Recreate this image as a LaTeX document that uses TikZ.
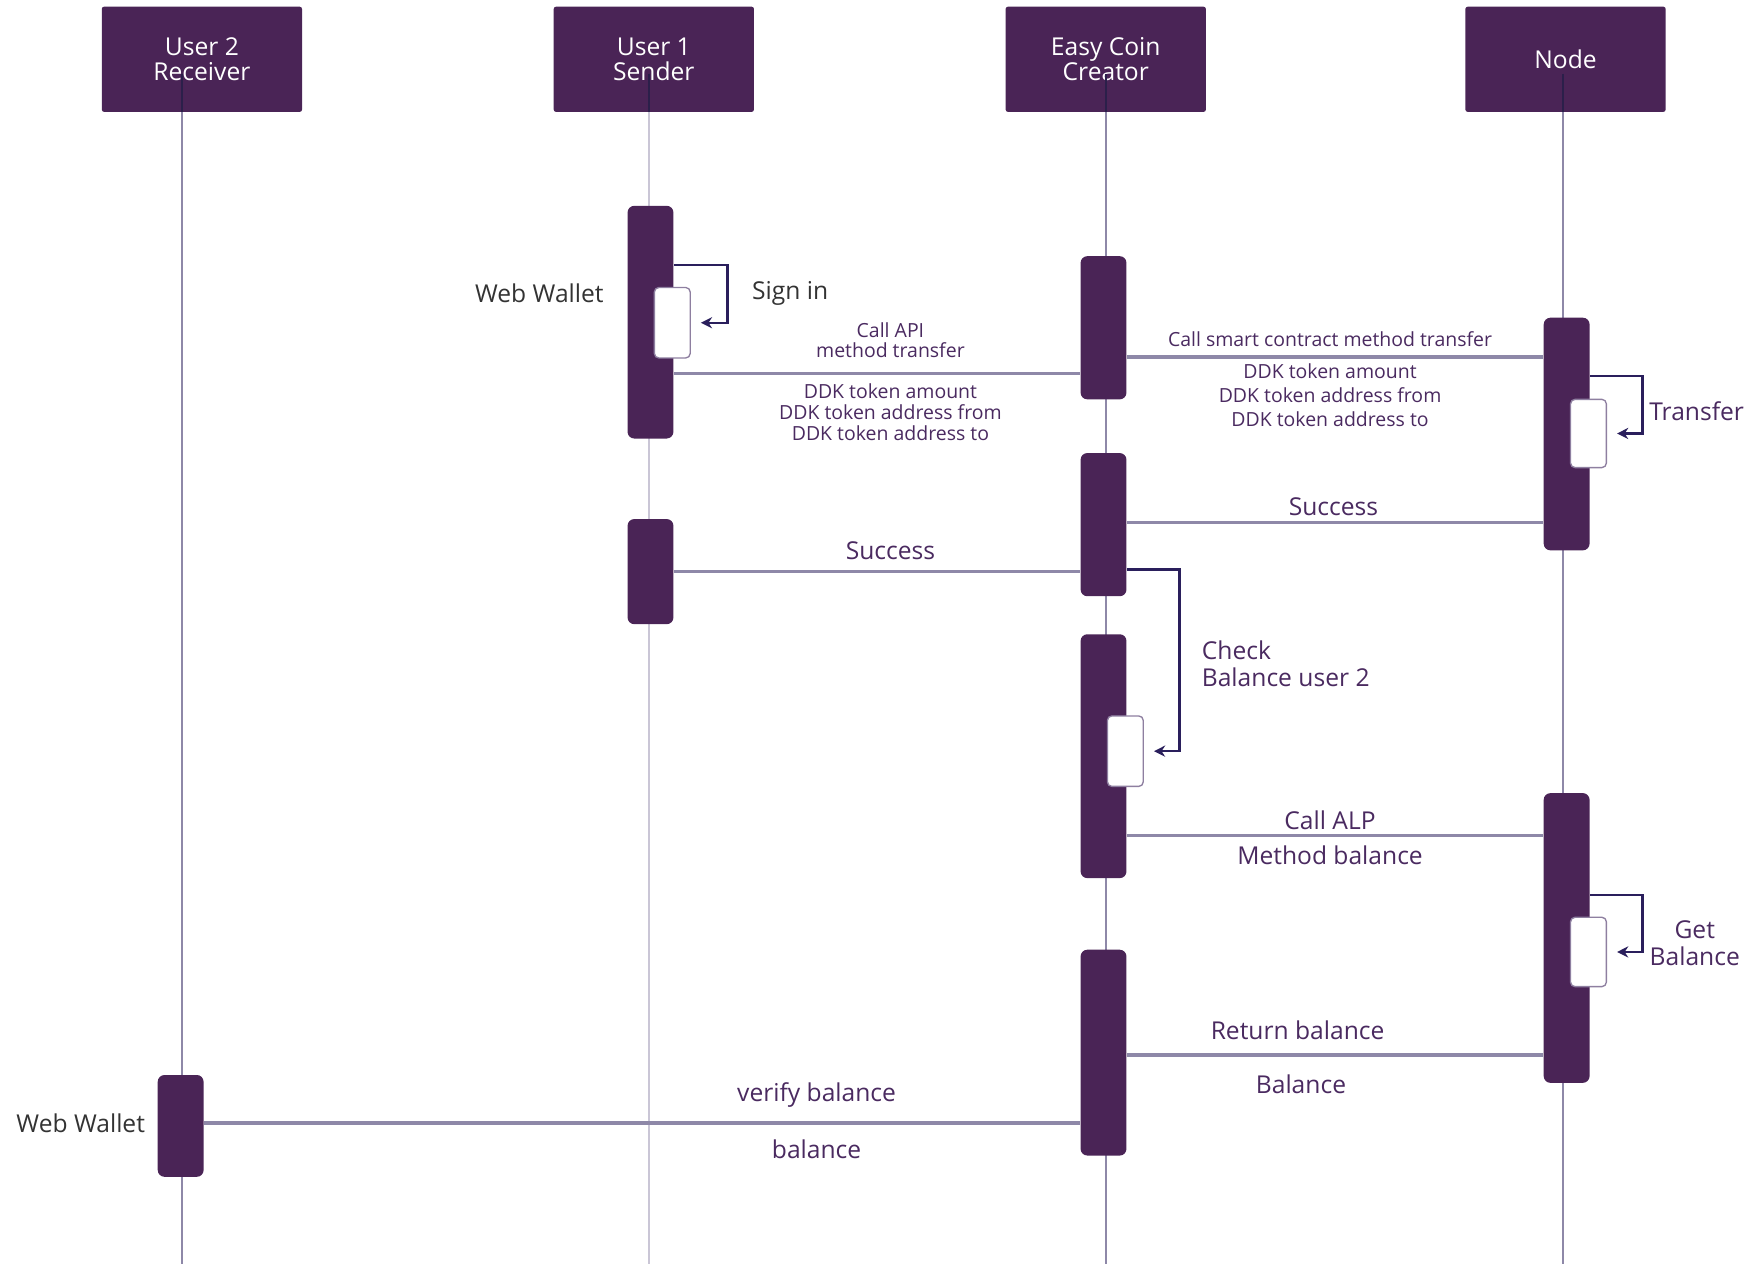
\documentclass[tikz,border=0pt]{standalone}
\usepackage{fontspec}
\setmainfont{Open Sans}
\usetikzlibrary{arrows.meta}
\definecolor{barc}{HTML}{4A2456}
\definecolor{lifec}{HTML}{8E88A8}
\definecolor{lifelt}{HTML}{CAC6D6}
\definecolor{lifedark}{HTML}{2B1F4A}
\definecolor{loopc}{HTML}{2A1F5C}
\definecolor{txtc}{HTML}{4A2A60}
\definecolor{darktxt}{HTML}{333333}
\definecolor{innerc}{HTML}{8E7FA0}
\tikzset{
  head/.style={fill=barc, rounded corners=1pt, minimum width=89.5pt, minimum height=47pt, text=white, font=\fontsize{11}{11}\selectfont, align=center, inner sep=0pt},
  actbar/.style={fill=barc, rounded corners=3pt, minimum width=20.5pt, inner sep=0pt},
  innerbox/.style={fill=white, draw=innerc, line width=0.6pt, rounded corners=2pt, minimum width=16pt, inner sep=0pt},
  lifeline/.style={draw=lifec, line width=1pt},
  msg/.style={draw=lifec, line width=1.5pt},
  selfloop/.style={draw=loopc, line width=1pt, -{Stealth[length=5pt,width=5pt]}},
  lbl/.style={text=txtc, font=\fontsize{11}{12}\selectfont, inner sep=0pt, align=center},
  smalllbl/.style={text=txtc, font=\fontsize{8.7}{9.25}\selectfont, inner sep=0pt, align=center},
  note/.style={text=darktxt, font=\fontsize{11}{12}\selectfont, inner sep=0pt},
}
\begin{document}
\begin{tikzpicture}[x=0.5pt,y=-0.5pt]
\useasboundingbox (0,0) rectangle (1568,1130);
% heads
\node[head] (h2) at (180.5,53) {User 2\\Receiver};
\node[head] (h1) at (584.5,53) {User 1\\Sender};
\node[head] (hc) at (988.5,53) {Easy Coin\\Creator};
\node[head] (hn) at (1399.5,53) {Node};
% dark lifeline parts inside heads
\draw[draw=lifedark, line width=1pt] (163,66) -- (h2.south -| 163,0);
\draw[draw=lifedark, line width=1pt] (580,66) -- (h1.south -| 580,0);
\draw[draw=lifedark, line width=1pt] (989,66) -- (hc.south -| 989,0);
\draw[draw=lifedark, line width=1pt] (1397,66) -- (hn.south -| 1397,0);
% lifelines
\coordinate (e2) at (163,1130);
\coordinate (e1) at (580,1130);
\coordinate (ec) at (989,1130);
\coordinate (en) at (1397,1130);
\draw[lifeline] (h2.south -| e2) -- (e2);
\draw[lifeline, draw=lifelt] (h1.south -| e1) -- (e1);
\draw[lifeline] (hc.south -| ec) -- (ec);
\draw[lifeline] (hn.south -| en) -- (en);
% activation bars
\node[actbar, minimum height=104pt] (u1a) at (581.5,288) {};
\node[actbar, minimum height=47pt] (u1b) at (581.5,511) {};
\node[actbar, minimum height=64pt] (c1) at (986.5,293) {};
\node[actbar, minimum height=64pt] (c2) at (986.5,469) {};
\node[actbar, minimum height=109pt] (c3) at (986.5,676) {};
\node[actbar, minimum height=92pt] (c4) at (986.5,941) {};
\node[actbar, minimum height=104pt] (n1) at (1400.5,388) {};
\node[actbar, minimum height=129.5pt] (n2) at (1400.5,838.5) {};
\node[actbar, minimum height=45.5pt] (u2) at (161.5,1006.5) {};
% inner boxes
\node[innerbox, minimum height=31.5pt] (i1) at (601,288.5) {};
\node[innerbox, minimum height=31.5pt] (ic) at (1006,671.5) {};
\node[innerbox, minimum height=30.5pt] (in1) at (1420,387.5) {};
\node[innerbox, minimum height=31pt] (in2) at (1420,851) {};
% self loops
\draw[selfloop] (u1a.east |- 0,237) -- ++(48,0) |- ([xshift=4.5pt]i1.east);
\draw[selfloop] (n1.east |- 0,336) -- ++(47,0) |- ([xshift=4.5pt]in1.east);
\draw[selfloop] (c2.east |- 0,509) -- ++(47,0) |- ([xshift=4.5pt]ic.east);
\draw[selfloop] (n2.east |- 0,800) -- ++(47,0) |- ([xshift=4.5pt]in2.east);
% messages
\draw[msg] (u1a.east |- 0,334) -- (c1.west |- 0,334);
\draw[msg] (c1.east |- 0,319) -- (n1.west |- 0,319);
\draw[msg] (c2.east |- 0,467) -- (n1.west |- 0,467);
\draw[msg] (u1b.east |- 0,511) -- (c2.west |- 0,511);
\draw[msg] (c3.east |- 0,747) -- (n2.west |- 0,747);
\draw[msg] (c4.east |- 0,943) -- (n2.west |- 0,943);
\draw[msg] (u2.east |- 0,1004) -- (c4.west |- 0,1004);
% labels
\node[note, anchor=east] (ww1) at (540,262) {Web Wallet};
\node[note, anchor=west] (si) at (672,262) {Sign in};
\node[smalllbl] (l1) at (796,304) {Call API\\method transfer};
\node[smalllbl] (l2) at (796,368.5) {DDK token amount\\DDK token address from\\DDK token address to};
\node[smalllbl] (l3) at (1189,303) {Call smart contract method transfer};
\node[smalllbl, font=\fontsize{8.7}{10.75}\selectfont] (l4) at (1189,353.5) {DDK token amount\\DDK token address from\\DDK token address to};
\node[lbl, anchor=west] (l5) at (1474,368) {Transfer};
\node[lbl] (l6) at (1192,453) {Success};
\node[lbl] (l7) at (796,492) {Success};
\node[lbl, anchor=west, align=left] (l8) at (1074,593) {Check\\Balance user 2};
\node[lbl] (l9) at (1189,733) {Call ALP};
\node[lbl] (l10) at (1189,765) {Method balance};
\node[lbl] (l11) at (1515,843) {Get\\Balance};
\node[lbl] (l12) at (1160,921) {Return balance};
\node[lbl] (l13) at (1163,969) {Balance};
\node[lbl] (l14) at (730,979) {verify balance};
\node[lbl] (l15) at (730,1027) {balance};
\node[note, anchor=east] (ww2) at (130,1004) {Web Wallet};
\end{tikzpicture}
\end{document}
